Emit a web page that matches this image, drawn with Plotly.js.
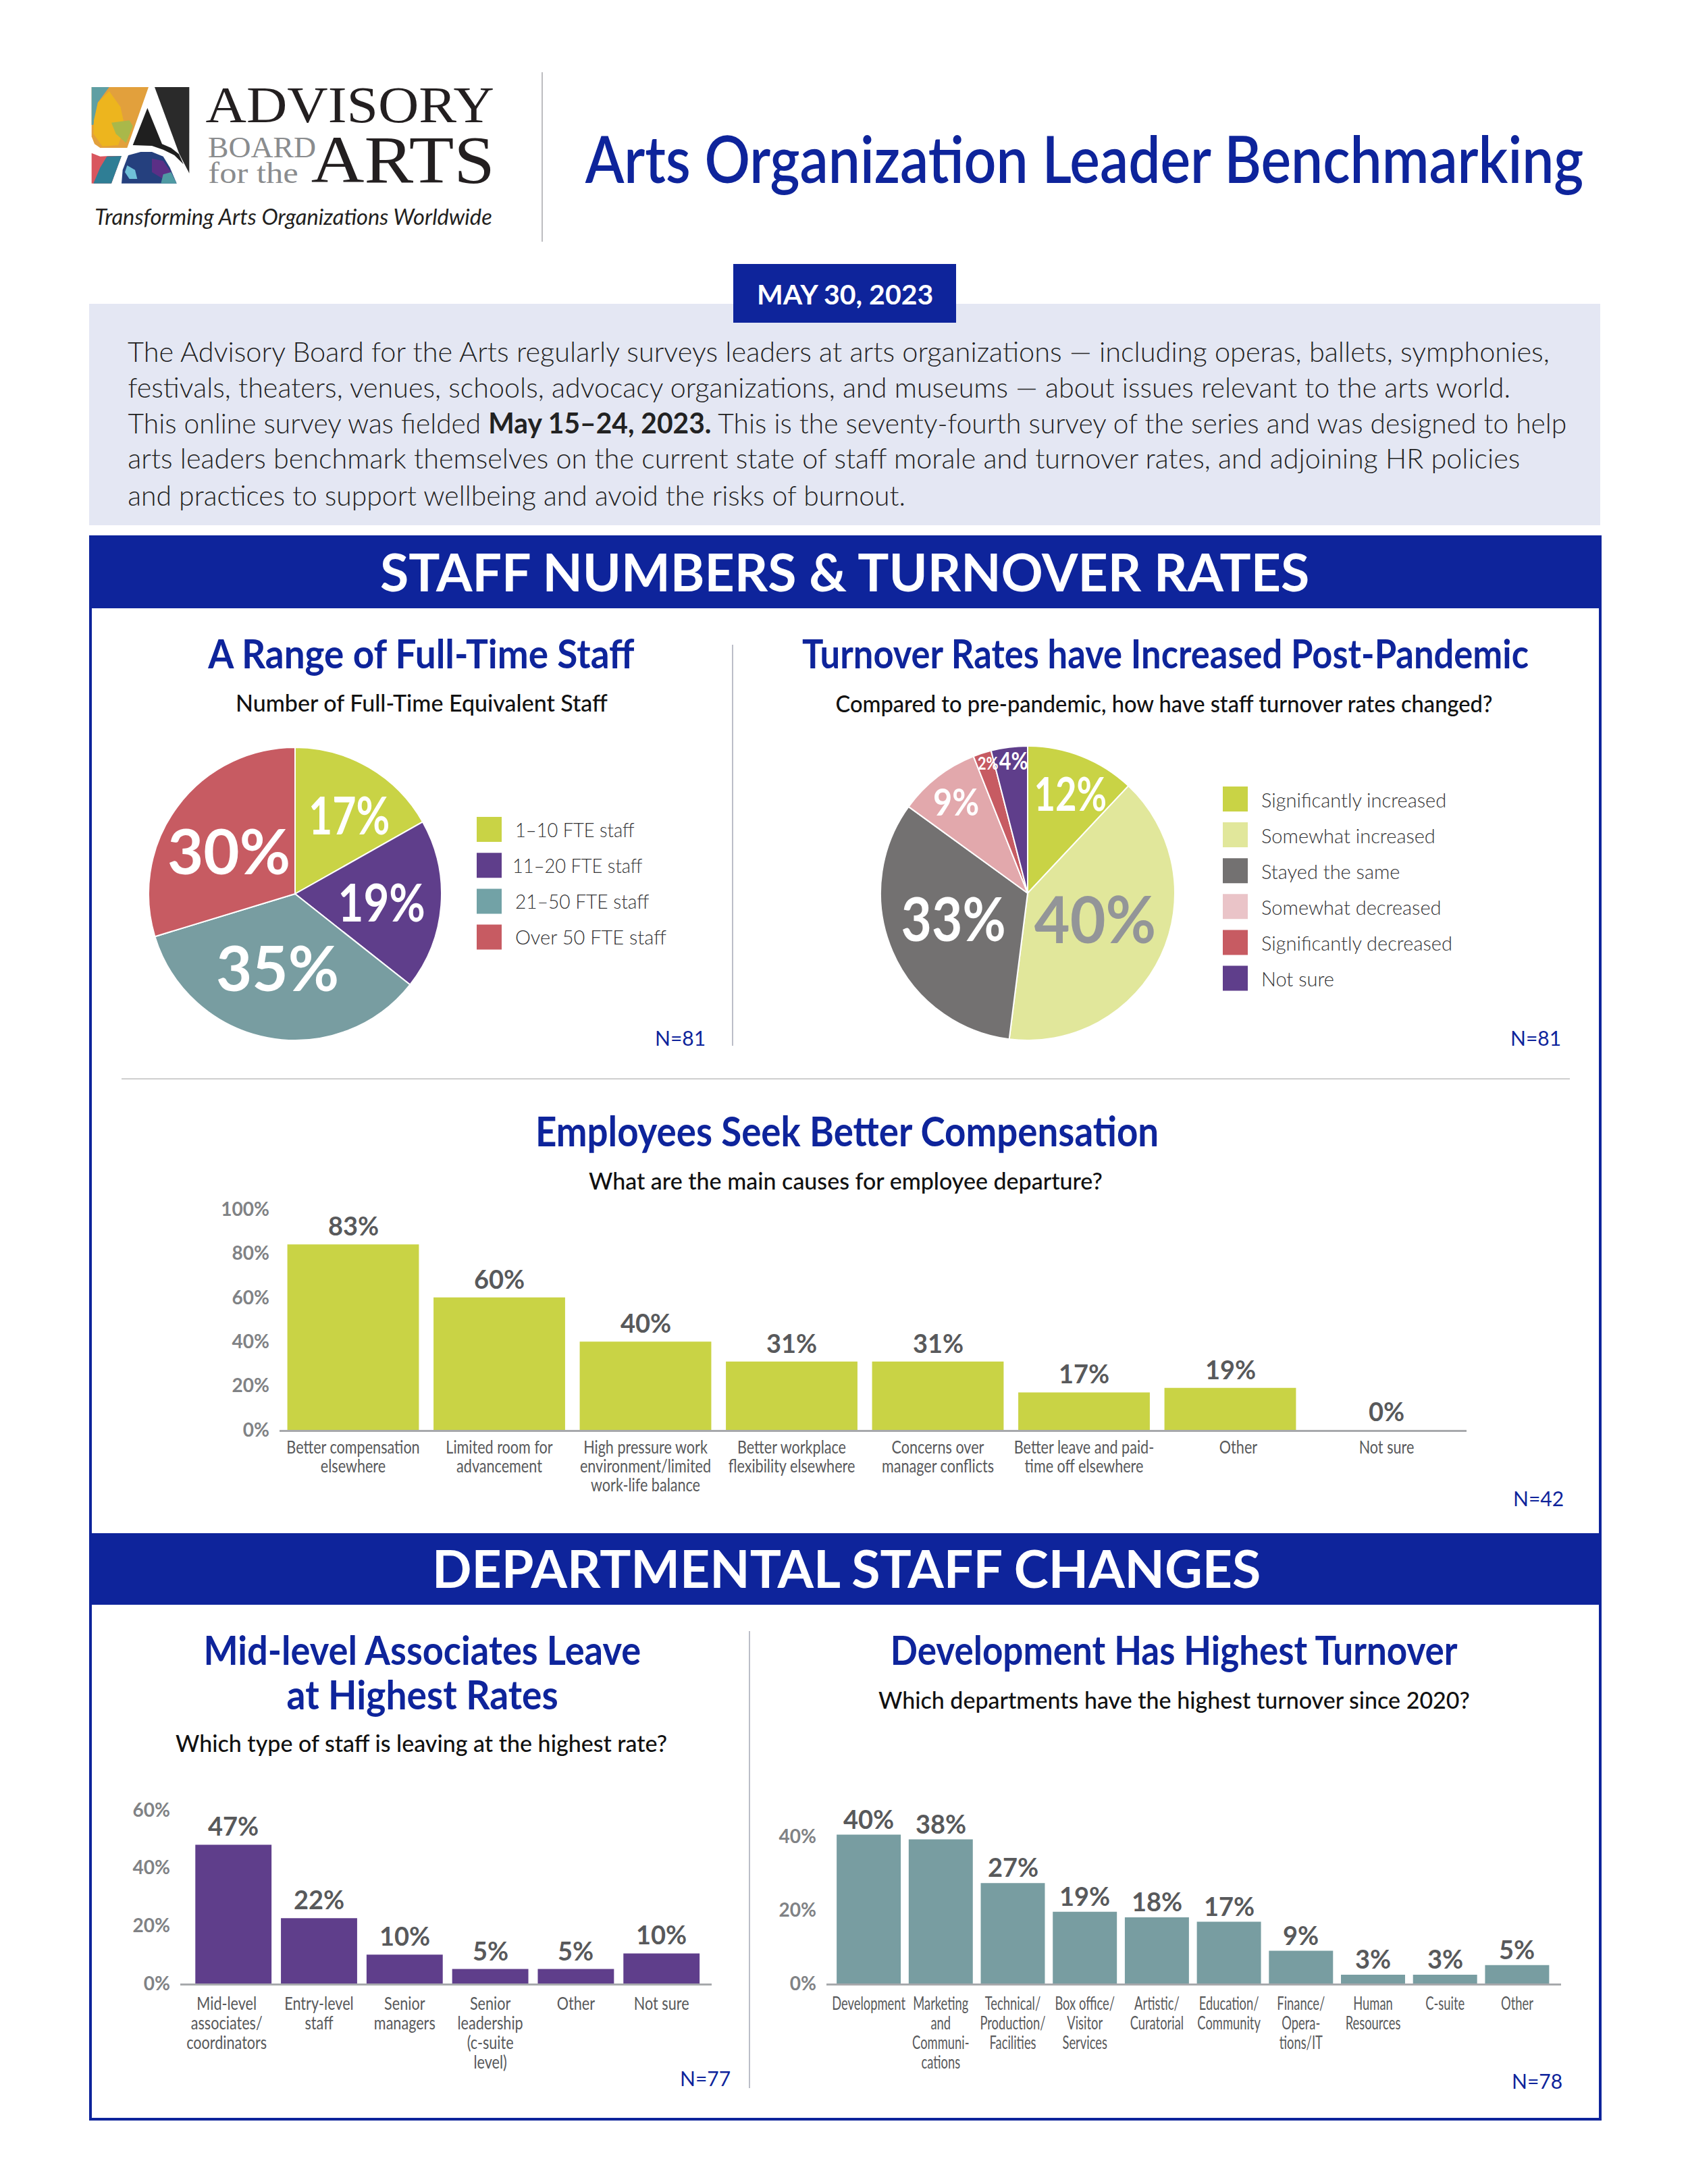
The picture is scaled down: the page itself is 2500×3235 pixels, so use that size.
<!DOCTYPE html>
<html><head><meta charset="utf-8">
<script src="https://cdn.plot.ly/plotly-3.0.1.min.js"></script>
<style>html,body{margin:0;padding:0;background:#fff}</style>
</head><body><div id="chart" style="width:2500px;height:3235px"></div>
<script>
// ---------- data ----------
const staffLabels = ["1–10 FTE staff","11–20 FTE staff","21–50 FTE staff","Over 50 FTE staff"];
const staffValues = [17,19,35,30];
const turnoverLabels = ["Significantly increased","Somewhat increased","Stayed the same","Somewhat decreased","Significantly decreased","Not sure"];
const turnoverValues = [12,40,33,9,2,4];
const causeCats = ["Better compensation<br>elsewhere","Limited room for<br>advancement","High pressure work<br>environment/limited<br>work-life balance","Better workplace<br>flexibility elsewhere","Concerns over<br>manager conflicts","Better leave and paid-<br>time off elsewhere","Other","Not sure"];
const causeBars = [84,60,40,31,31,17,19,0];
const causeText = ["83%","60%","40%","31%","31%","17%","19%","0%"];
const staffTypeCats = ["Mid-level<br>associates/<br>coordinators","Entry-level<br>staff","Senior<br>managers","Senior<br>leadership<br>(c-suite<br>level)","Other","Not sure"];
const staffTypeBars = [48,22.6,10,5,5,10.4];
const staffTypeText = ["47%","22%","10%","5%","5%","10%"];
const deptCats = ["Development","Marketing<br>and<br>Communi-<br>cations","Technical/<br>Production/<br>Facilities","Box office/<br>Visitor<br>Services","Artistic/<br>Curatorial","Education/<br>Community","Finance/<br>Opera-<br>tions/IT","Human<br>Resources","C-suite","Other"];
const deptBars = [40.5,39.2,27.3,19.5,18,16.8,8.9,2.4,2.4,5];
const deptText = ["40%","38%","27%","19%","18%","17%","9%","3%","3%","5%"];
const bodyLines = [
 "The Advisory Board for the Arts regularly surveys leaders at arts organizations — including operas, ballets, symphonies,",
 "festivals, theaters, venues, schools, advocacy organizations, and museums — about issues relevant to the arts world.",
 "This online survey was fielded <b>May 15–24, 2023.</b> This is the seventy-fourth survey of the series and was designed to help",
 "arts leaders benchmark themselves on the current state of staff morale and turnover rates, and adjoining HR policies",
 "and practices to support wellbeing and avoid the risks of burnout."];

// ---------- helpers ----------
const W=2500,H=3235, BLUE='#0E249B', GREY='#58595B', F='Lato, sans-serif', SERIF='"Liberation Serif",serif';
const PX=x=>x/W, PY=y=>1-y/H;
const ann=[], shp=[], squeeze=[];
function T(text,x,y,size,color,o={}){
  if(o.cond) squeeze.push([ann.length,o.cond,o.anchor||'center']);
  ann.push({text,x:PX(x),y:PY(y),xref:'paper',yref:'paper',showarrow:false,
    xanchor:o.anchor||'center',yanchor:'middle',
    font:{family:o.family||F,size,color,weight:o.weight||400,style:o.style||'normal'}});
}
function R(x0,y0,x1,y1,fill,line,lw){
  shp.push({type:'rect',xref:'paper',yref:'paper',x0:PX(x0),x1:PX(x1),y0:PY(y0),y1:PY(y1),
    fillcolor:fill||'rgba(0,0,0,0)',line:{width:line?lw:0,color:line||'rgba(0,0,0,0)'},layer:'below'});
}
function L(x0,y0,x1,y1,c,w){
  shp.push({type:'line',xref:'paper',yref:'paper',x0:PX(x0),x1:PX(x1),y0:PY(y0),y1:PY(y1),line:{color:c,width:w},layer:'below'});
}
function G(points,fill){ // logo polygon given in zoomed logo units
  const d=points.map((p,i)=>(i?'L':'M')+PX(p[0]/3+125)+','+PY(p[1]/3+115)).join(' ')+' Z';
  shp.push({type:'path',xref:'paper',yref:'paper',path:d,fillcolor:fill,line:{width:0},layer:'below'});
}

// ---------- logo ----------
G([[32,42],[285,42],[190,312],[70,312],[45,295],[32,262]],'#E2A03C');
G([[32,42],[110,42],[60,110],[40,210],[32,210]],'#5F9FA3');
G([[60,110],[110,60],[160,130],[180,220],[150,300],[80,305],[40,250],[42,190]],'#EDB51E');
G([[120,200],[200,190],[215,215],[185,290],[140,250]],'#A9B84A');
G([[312,42],[466,42],[466,425],[440,375],[420,335]],'#2A2A2A');
G([[280,135],[345,295],[385,312],[420,340],[440,385],[400,345],[350,320],[300,303],[215,300]],'#1F1F1F');
G([[32,335],[70,350],[110,348],[190,348],[165,348],[120,470],[32,470]],'#D9565E');
G([[100,350],[165,348],[120,470],[40,470],[70,400]],'#2F7E95');
G([[195,345],[250,330],[300,330],[350,350],[380,400],[410,470],[165,470],[170,410]],'#25407E');
G([[300,360],[350,370],[385,420],[350,450],[300,420]],'#5B2F86');
G([[190,390],[225,410],[235,450],[200,450],[180,420]],'#6FC0D8');
G([[350,430],[385,420],[410,470],[340,470]],'#4F9AA3');
T('ADVISORY',518,155,76,'#231F20',{family:SERIF,cond:1.1});
T('BOARD',388,219,44,'#8A8C8E',{family:SERIF,cond:1.04});
T('for the',375,256,44,'#8A8C8E',{family:SERIF,cond:1.15});
T('ARTS',597,237,100,'#231F20',{family:SERIF,cond:1.09});
T('Transforming Arts Organizations Worldwide',435,320,32,'#231F20',{style:'italic',weight:400,cond:1.02});

// ---------- page furniture ----------
L(803,107,803,358,'#BDBDC0',2);
T('Arts Organization Leader Benchmarking',1605,233,96,BLUE,{weight:600,cond:0.875});
R(132,450,2370,778,'#E4E7F3');
R(1086,391,1416,478,BLUE);
T('MAY 30, 2023',1251,436,41,'#fff',{weight:700});
const bodyCond=[1,0.995,0.982,0.996,0.985];
bodyLines.forEach((t,i)=>T(t,187,[520,573,626,678,733][i],41.5,'#222222',{anchor:'left',weight:300,cond:bodyCond[i]}));

R(134,795,2370,3139,'#fff',BLUE,4);
R(134,795,2370,901,BLUE);
R(134,2271,2370,2377,BLUE);
T('STAFF NUMBERS &amp; TURNOVER RATES',1251,846,77,'#fff',{weight:700});
T('DEPARTMENTAL STAFF CHANGES',1253,2322,77,'#fff',{weight:700});

L(1085,955,1085,1549,'#BCBEC8',2);
L(180,1598,2325,1598,'#CFCFCF',2);
L(1110,2416,1110,3093,'#BCBEC8',2);

const titleSize=60, subSize=34;
T('A Range of Full-Time Staff',623,967,titleSize,BLUE,{weight:700,cond:0.915});
T('Number of Full-Time Equivalent Staff',624,1040,subSize,'#111',{weight:500});
T('Turnover Rates have Increased Post-Pandemic',1726,967,titleSize,BLUE,{weight:700,cond:0.875});
T('Compared to pre-pandemic, how have staff turnover rates changed?',1724,1041,subSize,'#111',{weight:500,cond:0.96});
T('Employees Seek Better Compensation',1254,1674,titleSize+2,BLUE,{weight:700,cond:0.882});
T('What are the main causes for employee departure?',1252,1748,subSize,'#111',{weight:500});
T('Mid-level Associates Leave',625,2443,titleSize,BLUE,{weight:700,cond:0.904});
T('at Highest Rates',625,2509,titleSize,BLUE,{weight:700,cond:0.92});
T('Which type of staff is leaving at the highest rate?',624,2581,subSize,'#111',{weight:500});
T('Development Has Highest Turnover',1739,2443,titleSize,BLUE,{weight:700,cond:0.883});
T('Which departments have the highest turnover since 2020?',1739,2517,subSize,'#111',{weight:500});
[['N=81',1047,1537],['N=81',2314,1537],['N=42',2318,2219],['N=77',1084,3078],['N=78',2316,3082]]
  .forEach(n=>T(n[0],n[1],n[2],30,BLUE,{anchor:'right'}));

// ---------- legends ----------
const staffColors=['#C9D345','#5F3E8B','#789DA1','#C75B62'];
const staffSwatch=['#C9D345','#5F3E8B','#72A2A6','#C75B62'];
const turnColors=['#C9D345','#E1E79B','#737171','#E2A8AC','#C75B62','#5F3E8B'];
const turnSwatch=['#C9D345','#E1E79B','#737171','#EAC4C8','#C75B62','#5F3E8B'];
const staffCond=[0.94,0.94,0.97,1];
staffLabels.forEach((t,i)=>{const y=1210+i*53.2;R(706,y,743,y+37,staffSwatch[i]);T(t,[761,757,761,761][i],y+18,29,'#333335',{anchor:'left',weight:300,cond:staffCond[i]});});
turnoverLabels.forEach((t,i)=>{const y=1165+i*53.1;R(1811,y,1848,y+37,turnSwatch[i]);T(t,1866,y+19,29,'#333335',{anchor:'left',weight:300});});

// ---------- pies ----------
function pie(labels,values,colors,cx,cy,r){
  return {type:'pie',labels,values,sort:false,direction:'clockwise',rotation:0,textinfo:'none',hoverinfo:'label+percent',
    marker:{colors,line:{color:'#fff',width:2}},showlegend:false,
    domain:{x:[PX(cx-r),PX(cx+r)],y:[PY(cy+r),PY(cy-r)]}};
}
[[0,517,1206,76,0.8],[1,565,1336,76,0.86],[2,411,1432,92,1],[3,339,1259,92,1]]
  .forEach(a=>T(staffValues[a[0]]+'%',a[1],a[2],a[3],'#fff',{weight:700,cond:a[4]}));
[[0,1585,1175,68,'#fff',0.8],[1,1622,1359,96,'#939598',0.95],[2,1412,1359,90,'#fff',0.87],[3,1416,1186,56,'#fff',0.87],[4,1463,1130,26,'#fff',0.85],[5,1501,1126,36,'#fff',0.85]]
  .forEach(a=>T(turnoverValues[a[0]]+'%',a[1],a[2],a[3],a[4],{weight:700,cond:a[5]}));

// ---------- bars ----------
function bar(cats,vals,color,xa,ya,width){
  return {type:'bar',x:cats,y:vals,xaxis:xa,yaxis:ya,marker:{color},width,showlegend:false,hoverinfo:'y'};
}
function barLabels(texts,vals,xa,ya,size,shift,xs){
  texts.forEach((t,i)=>ann.push({text:t,x:i,y:vals[i],xref:xa,yref:ya,showarrow:false,xanchor:'center',yanchor:'middle',yshift:shift,xshift:(xs&&xs[i])||0,
    font:{family:F,size,color:GREY,weight:700}}));
}
function axes(n,x0,x1,yBottom,yTop,first,step,ymax,dtick,cats,standoff){
  const xk='xaxis'+n, yk='yaxis'+n;
  return {[xk]:{domain:[PX(x0),PX(x1)],anchor:'y'+n,type:'category',categoryorder:'array',categoryarray:cats,
      range:[(x0-first)/step,(x1-first)/step],showline:true,linecolor:'#A7A9AC',linewidth:3,showgrid:false,zeroline:false,
      ticks:'',tickangle:0,tickmode:'linear',dtick:1,ticklabelstandoff:standoff,fixedrange:true,
      tickfont:{family:F,size:27,color:'#58595B'}},
    [yk]:{domain:[PY(yBottom),PY(yTop)],anchor:'x'+n,range:[0,ymax],dtick,ticksuffix:'%',showgrid:false,showline:false,zeroline:false,
      ticks:'',ticklabelstandoff:14,fixedrange:true,tickfont:{family:F,size:28,color:'#808285',weight:700}}};
}
barLabels(causeText,causeBars,'x','y',38,28,{7:15});
barLabels(staffTypeText,staffTypeBars,'x2','y2',38,28);
barLabels(deptText,deptBars,'x3','y3',38,24);

const traces=[
  pie(staffLabels,staffValues,staffColors,437,1324,217),
  pie(turnoverLabels,turnoverValues,turnColors,1522,1323,218),
  bar(causeCats,causeBars,'#C9D345','x','y',0.9),
  bar(staffTypeCats,staffTypeBars,'#5F3E8B','x2','y2',0.89),
  bar(deptCats,deptBars,'#789DA1','x3','y3',0.89)
];
const a1=axes('',414,2172,2118,1791,523,216.5,100,20,causeCats,0);
const a2=axes(2,267,1054,2938,2681,345.7,126.8,60,20,staffTypeCats,4);
const a3=axes(3,1224,2312,2938,2693,1286.6,106.7,45,20,deptCats,4);
const layout=Object.assign({width:W,height:H,margin:{l:0,r:0,t:0,b:0},paper_bgcolor:'#fff',plot_bgcolor:'rgba(0,0,0,0)',
  showlegend:false,annotations:ann,shapes:shp,font:{family:F}},a1,a2,a3);

// The reference face is narrower and tighter than any installed font: condense the rendered text.
function narrow(el,k,origin){
  const prev=el.getAttribute('transform')||'';
  el.setAttribute('transform',`${prev} translate(${origin},0) scale(${k},1) translate(${-origin},0)`);
}
function finish(gd){
  const tickCfg={x:{lh:28,k:0.8,dx:{6:12,7:15}},x2:{lh:29,k:0.8,dx:{0:-10}},x3:{lh:29,k:0.68,dx:{}}};
  Object.keys(tickCfg).forEach(ax=>{
    const c=tickCfg[ax];
    gd.querySelectorAll(`.xaxislayer-above .${ax}tick text`).forEach((t,i)=>{
      t.querySelectorAll('tspan.line').forEach((s,j)=>s.setAttribute('dy',(j*c.lh)+'px'));
      narrow(t,c.k,parseFloat(t.getAttribute('x')));
      if(c.dx[i]) t.setAttribute('transform',`translate(${c.dx[i]},0) `+t.getAttribute('transform'));
    });
  });
  const groups=gd.querySelectorAll('.annotation');
  squeeze.forEach(([idx,k,anchor])=>{
    const g=gd.querySelector(`.annotation[data-index="${idx}"] text`)||(groups[idx]&&groups[idx].querySelector('text'));
    if(!g) return;
    const b=g.getBBox();
    narrow(g,k,anchor==='left'?b.x:anchor==='right'?b.x+b.width:b.x+b.width/2);
  });
}
Plotly.newPlot('chart',traces,layout,{displayModeBar:false,responsive:false,staticPlot:true}).then(finish);
</script></body></html>
